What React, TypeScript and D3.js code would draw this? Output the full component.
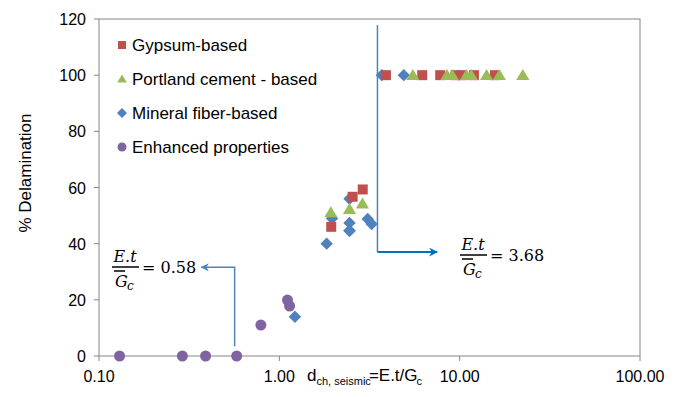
import React from 'react';
import * as d3 from 'd3';

// values
const gypsumX = [1.94, 2.55, 2.9, 3.9, 6.2, 7.8, 9.5, 10.3, 12, 15.7];
const gypsumY = [46, 56.7, 59.3, 100, 100, 100, 100, 100, 100, 100];
const portlandX = [1.93, 2.45, 2.89, 5.5, 8.5, 9.1, 10.9, 11.6, 14.1, 16.6, 22.4];
const portlandY = [51.2, 52.3, 54.3, 100, 100, 100, 100, 100, 100, 100, 100];
const mineralX = [1.22, 1.83, 1.96, 2.45, 2.45, 2.45, 2.45, 3.09, 3.25, 3.7, 4.9];
const mineralY = [14, 40, 49, 56, 47.4, 44.6, 44.6, 48.8, 47, 100, 100];
const enhancedX = [0.13, 0.29, 0.39, 0.58, 0.79, 1.11, 1.14];
const enhancedY = [0, 0, 0, 0, 11, 19.9, 17.8];

const xTicks = [0.1, 1, 10, 100];
const yTicks = [0, 20, 40, 60, 80, 100, 120];
const legendLabels = ['Gypsum-based', 'Portland cement - based', 'Mineral fiber-based', 'Enhanced properties'];
const colors = ['#C0504D', '#9BBB59', '#4F81BD', '#8064A2'];

const W = 683, H = 397;
const left = 99, right = 640, top = 19, bottom = 356;

const Marker = ({ kind, x, y, s }: { kind: number; x: number; y: number; s: number }) => {
  const c = colors[kind];
  if (kind === 0) return <rect x={x - s / 2} y={y - s / 2} width={s} height={s} fill={c} />;
  if (kind === 1) {
    const h = s * 1.0;
    return <path d={`M${x},${y - h * 0.55}L${x + s * 0.6},${y + h * 0.45}L${x - s * 0.6},${y + h * 0.45}Z`} fill={c} />;
  }
  if (kind === 2) {
    const r = s * 0.62;
    return <path d={`M${x},${y - r}L${x + r},${y}L${x},${y + r}L${x - r},${y}Z`} fill={c} />;
  }
  return <circle cx={x} cy={y} r={s / 2} fill={c} />;
};

const Formula = ({ x, y, value }: { x: number; y: number; value: string }) => (
  <g fontFamily="'DejaVu Serif', 'Liberation Serif', serif" fill="#000">
    <text x={x + 13} y={y - 5} fontSize={16} fontStyle="italic" textAnchor="middle">E.t</text>
    <line x1={x} x2={x + 27} y1={y} y2={y} stroke="#000" strokeWidth={1.5} />
    <line x1={x + 2} x2={x + 13} y1={y + 4} y2={y + 4} stroke="#000" strokeWidth={1.5} />
    <text x={x + 3} y={y + 20} fontSize={16} fontStyle="italic">G</text>
    <text x={x + 15} y={y + 23} fontSize={12} fontStyle="italic">c</text>
    <text x={x + 30} y={y + 6} fontSize={16}>= {value}</text>
  </g>
);

const App = () => {
  const xScale = d3.scaleLog().domain([0.1, 100]).range([left, right]);
  const yScale = d3.scaleLinear().domain([0, 120]).range([bottom, top]);
  const series = [
    [gypsumX, gypsumY],
    [portlandX, portlandY],
    [mineralX, mineralY],
    [enhancedX, enhancedY],
  ];
  const drawOrder = [3, 2, 0, 1];
  const line = d3.line<[number, number]>().x(d => xScale(d[0])).y(d => yScale(d[1]));

  return (
    <svg width={W} height={H} style={{ position: 'absolute', left: 0, top: 0, background: '#fff' }}
      fontFamily="'Liberation Sans', Arial, sans-serif">
      <defs>
        <marker id="arrL" viewBox="0 0 10 10" refX="9" refY="5" markerWidth="5.5" markerHeight="5.5" orient="auto">
          <path d="M0,0L10,5L0,10L3,5Z" fill="#4F81BD" />
        </marker>
        <marker id="arrR" viewBox="0 0 10 10" refX="9" refY="5" markerWidth="4.5" markerHeight="4.5" orient="auto">
          <path d="M0,0L10,5L0,10L3,5Z" fill="#0070C0" />
        </marker>
      </defs>
      {/* plot frame */}
      <rect x={left} y={top} width={right - left} height={bottom - top} fill="none" stroke="#868686" strokeWidth={1} />
      {yTicks.map(t => (
        <g key={t}>
          <line x1={left - 5} x2={left} y1={yScale(t)} y2={yScale(t)} stroke="#868686" />
          <text x={left - 13} y={yScale(t) + 6} fontSize={16} textAnchor="end" fill="#000">{t}</text>
        </g>
      ))}
      {xTicks.map(t => (
        <g key={t}>
          <line x1={xScale(t)} x2={xScale(t)} y1={bottom} y2={bottom + 5} stroke="#868686" />
          <text x={xScale(t)} y={382} fontSize={16} textAnchor="middle" fill="#000">{d3.format('.2f')(t)}</text>
        </g>
      ))}
      <text transform="translate(31,173) rotate(-90)" fontSize={17} textAnchor="middle" fill="#000">% Delamination</text>
      <text x={307} y={381} fontSize={17} fill="#000">
        d<tspan fontSize={11} dy={4}>ch, seismic</tspan><tspan dy={-4} dx={-2}>=E.t/G</tspan><tspan fontSize={11} dy={4} dx={-1}>c</tspan>
      </text>

      {/* annotations */}
      <path d={line([[3.5, 117.8], [3.5, 37]])!} fill="none" stroke="#4F81BD" strokeWidth={1.5} />
      <path d={line([[3.5, 37], [7.5, 37]])!} fill="none" stroke="#0070C0" strokeWidth={2} markerEnd="url(#arrR)" />
      <path d={line([[0.565, 3.5], [0.565, 31.6], [0.37, 31.6]])!} fill="none" stroke="#4F81BD" strokeWidth={1.5} markerEnd="url(#arrL)" />
      <Formula x={112} y={267} value="0.58" />
      <Formula x={460} y={255} value="3.68" />

      {/* points */}
      {drawOrder.map(k => (
        <g key={k}>
          {series[k][0].map((v, i) => (
            <Marker key={i} kind={k} x={xScale(v)} y={yScale(series[k][1][i])} s={k === 3 ? 11 : k === 1 ? 11 : 10} />
          ))}
        </g>
      ))}

      {/* legend */}
      {legendLabels.map((l, i) => (
        <g key={l} transform={`translate(0, ${45 + i * 34})`}>
          <Marker kind={i} x={122} y={0} s={i === 3 ? 9 : 8} />
          <text x={132} y={6} fontSize={17} fill="#000">{l}</text>
        </g>
      ))}
    </svg>
  );
};

export default App;
